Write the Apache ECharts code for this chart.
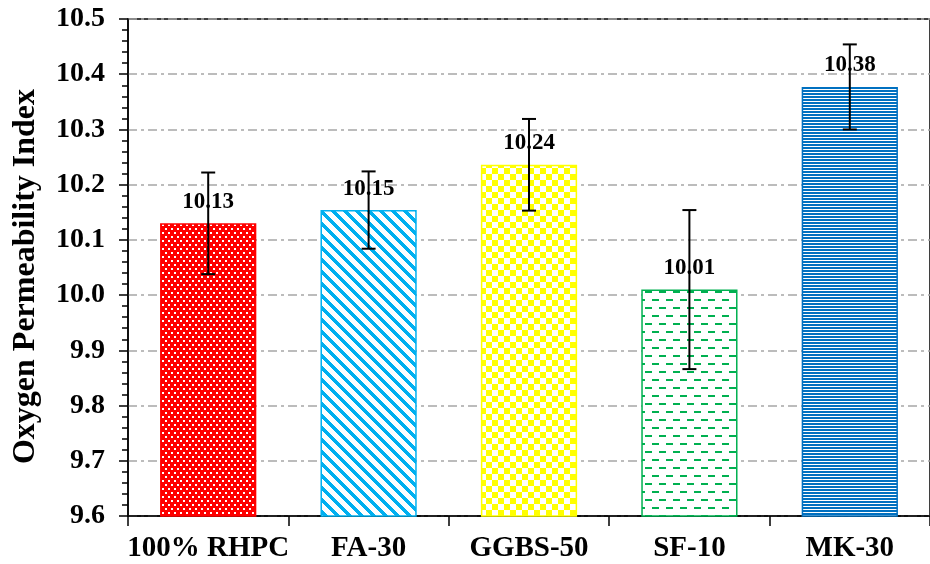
<!DOCTYPE html>
<html>
<head>
<meta charset="utf-8">
<script src="https://cdn.jsdelivr.net/npm/echarts@6/dist/echarts.min.js"></script>
<style>
  html, body { margin: 0; padding: 0; background: #fff; }
  #chart { width: 930px; height: 564px; }
</style>
</head>
<body>
<div id="chart"></div>
<script>
// values
const categories = ['100% RHPC', 'FA-30', 'GGBS-50', 'SF-10', 'MK-30'];
const means = [10.13, 10.154, 10.236, 10.01, 10.377];
const errors = [0.092, 0.07, 0.083, 0.144, 0.077];
const yTicks = [9.6, 9.7, 9.8, 9.9, 10.0, 10.1, 10.2, 10.3, 10.4, 10.5];

const FONT = "'Liberation Serif', 'Times New Roman', serif";

// small canvas fills, like the excel pattern fills
function pattern(w, h, draw) {
    const c = document.createElement('canvas');
    c.width = w;
    c.height = h;
    const ctx = c.getContext('2d');
    draw(ctx);
    return { image: c, repeat: 'repeat' };
}

const fills = [
    // red with white dots
    pattern(6, 8, ctx => {
        ctx.fillStyle = '#FF0000'; ctx.fillRect(0, 0, 6, 8);
        ctx.fillStyle = '#fff';
        ctx.fillRect(0, 0, 2, 2);
        ctx.fillRect(3, 4, 2, 2);
    }),
    // light blue downward diagonal
    pattern(12, 12, ctx => {
        ctx.fillStyle = '#fff'; ctx.fillRect(0, 0, 12, 12);
        ctx.fillStyle = '#00B0F0';
        for (let y = 0; y < 12; y++) {
            for (let k = 0; k < 5; k++) ctx.fillRect((y + k) % 12, y, 1, 1);
        }
    }),
    // yellow checkers
    pattern(12, 12, ctx => {
        ctx.fillStyle = '#fff'; ctx.fillRect(0, 0, 12, 12);
        ctx.fillStyle = '#FFFF00';
        ctx.fillRect(0, 0, 6, 6);
        ctx.fillRect(6, 6, 6, 6);
    }),
    // green dashes on white
    pattern(14, 16, ctx => {
        ctx.fillStyle = '#fff'; ctx.fillRect(0, 0, 14, 16);
        ctx.fillStyle = '#00B050';
        ctx.fillRect(1, 3, 7, 2);
        ctx.fillRect(8, 11, 7, 2);
        ctx.fillRect(0, 11, 1, 2);
    }),
    // blue horizontal lines
    pattern(4, 3, ctx => {
        ctx.fillStyle = '#fff'; ctx.fillRect(0, 0, 4, 3);
        ctx.fillStyle = '#0070C0';
        ctx.fillRect(0, 0, 4, 2);
    })
];
const borders = ['#FF0000', '#00B0F0', '#FFFF00', '#00B050', '#0070C0'];

const barData = means.map((v, i) => ({
    value: v,
    itemStyle: { color: fills[i], borderColor: borders[i], borderWidth: 1.5 }
}));
const errData = means.map((v, i) => [i, v - errors[i], v + errors[i]]);

const chart = echarts.init(document.getElementById('chart'));
chart.setOption({
    animation: false,
    grid: {
        left: 128, top: 19, width: 815, bottom: 48,
        show: true, borderColor: '#000', borderWidth: 1.5
    },
    xAxis: {
        type: 'category',
        data: categories,
        axisLine: { lineStyle: { color: '#000', width: 1.5 } },
        axisTick: { show: true, interval: 0, length: 10, lineStyle: { color: '#000', width: 1.5 } },
        axisLabel: {
            interval: 0,
            color: '#000', fontFamily: FONT, fontWeight: 'bold', fontSize: 29, margin: 18
        },
        splitLine: { show: false }
    },
    yAxis: {
        type: 'value',
        min: 9.6, max: 10.5, interval: 0.1,
        name: 'Oxygen Permeability Index',
        nameLocation: 'middle',
        nameGap: 86,
        nameTextStyle: {
            color: '#000', fontFamily: FONT, fontWeight: 'bold', fontSize: 32,
            padding: [0, 18, 0, 0]
        },
        axisLine: { show: true, lineStyle: { color: '#000', width: 1.5 } },
        axisTick: { show: true, length: 9, lineStyle: { color: '#000', width: 1.5 } },
        minorTick: { show: true, splitNumber: 5, length: 6, lineStyle: { color: '#000', width: 1.5 } },
        minorSplitLine: { show: false },
        axisLabel: {
            color: '#000', fontFamily: FONT, fontWeight: 'bold', fontSize: 28, margin: 23,
            formatter: v => {
                const t = yTicks.find(k => Math.abs(k - v) < 1e-6);
                return t === undefined ? '' : t.toFixed(1);
            }
        },
        splitLine: {
            show: true,
            lineStyle: { color: '#A6A6A6', width: 1.5, type: [9, 4, 3, 4] }
        }
    },
    series: [
        {
            name: 'index',
            type: 'bar',
            barWidth: '60%',
            data: barData,
            label: {
                show: true,
                position: 'top',
                distance: 10,
                color: '#000',
                fontFamily: FONT,
                fontWeight: 'bold',
                fontSize: 23,
                formatter: p => p.value.toFixed(2)
            },
            z: 2
        },
        {
            name: 'error',
            type: 'custom',
            data: errData,
            z: 10,
            renderItem: (params, api) => {
                const x = api.value(0);
                const lo = api.coord([x, api.value(1)]);
                const hi = api.coord([x, api.value(2)]);
                const half = 7;
                const style = { stroke: '#000', lineWidth: 2 };
                return {
                    type: 'group',
                    children: [
                        { type: 'line', shape: { x1: lo[0], y1: lo[1], x2: hi[0], y2: hi[1] }, style },
                        { type: 'line', shape: { x1: hi[0] - half, y1: hi[1], x2: hi[0] + half, y2: hi[1] }, style },
                        { type: 'line', shape: { x1: lo[0] - half, y1: lo[1], x2: lo[0] + half, y2: lo[1] }, style }
                    ]
                };
            }
        }
    ]
});
</script>
</body>
</html>
